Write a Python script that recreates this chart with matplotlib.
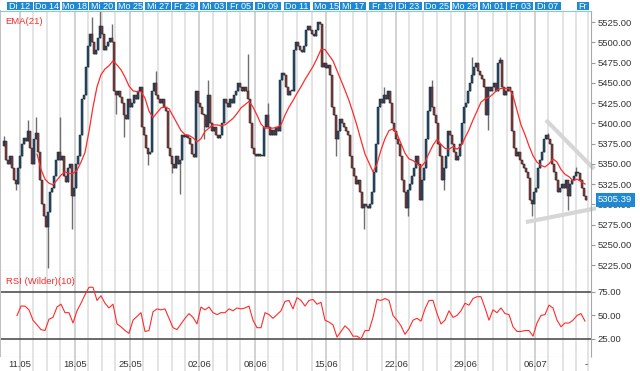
import numpy as np
import matplotlib
matplotlib.use('Agg')
import matplotlib.pyplot as plt
import matplotlib.transforms as mtransforms

plt.rcParams['font.family'] = ['Liberation Sans', 'DejaVu Sans']

# price path, one reading every ~2 px (one candle per step)
path = [
    5372,
    5378, 5355, 5350, 5360, 5345, 5330, 5325, 5345, 5360, 5375,
    5382, 5378, 5390, 5370, 5350, 5380, 5388, 5365, 5330, 5300,
    5285, 5272, 5290, 5315, 5320, 5335, 5355, 5365, 5355, 5360,
    5335, 5328, 5345, 5350, 5310, 5320, 5350, 5360, 5385, 5430,
    5435, 5470, 5495, 5510, 5500, 5485, 5490, 5505, 5520, 5510,
    5490, 5495, 5500, 5505, 5500, 5440, 5435, 5440, 5432, 5425,
    5410, 5405, 5430, 5420, 5425, 5435, 5430, 5440, 5445, 5395,
    5385, 5370, 5362, 5365, 5440, 5450, 5435, 5430, 5425, 5430,
    5420, 5415, 5370, 5360, 5350, 5345, 5360, 5350, 5355, 5385,
    5383, 5385, 5382, 5375, 5362, 5358, 5440, 5425, 5420, 5412,
    5410, 5395, 5435, 5400, 5390, 5395, 5385, 5382, 5385, 5400,
    5430, 5425, 5420, 5430, 5425, 5435, 5440, 5450, 5445, 5440,
    5445, 5440, 5430, 5400, 5370, 5362, 5360, 5362, 5360, 5360,
    5395, 5410, 5395, 5385, 5392, 5385, 5395, 5390, 5453, 5462,
    5460, 5445, 5435, 5440, 5440, 5490, 5500, 5495, 5490, 5488,
    5495, 5515, 5520, 5515, 5510, 5508, 5515, 5525, 5522, 5470,
    5475, 5468, 5472, 5460, 5420, 5410, 5380, 5390, 5405, 5400,
    5395, 5390, 5385, 5360, 5345, 5335, 5325, 5330, 5315, 5295,
    5300, 5298, 5295, 5300, 5315, 5340, 5375, 5420, 5430, 5425,
    5435, 5430, 5440, 5425, 5400, 5390, 5380, 5375, 5360, 5330,
    5315, 5295, 5318, 5325, 5335, 5345, 5360, 5350, 5305, 5330,
    5345, 5380, 5415, 5445, 5420, 5410, 5400, 5375, 5360, 5330,
    5345, 5360, 5390, 5385, 5375, 5365, 5355, 5360, 5375, 5400,
    5420, 5425, 5440, 5450, 5460, 5470, 5475, 5465, 5460, 5455,
    5445, 5410, 5445, 5440, 5445, 5450, 5440, 5475, 5478, 5445,
    5435, 5440, 5445, 5440, 5390, 5370, 5360, 5365, 5355, 5350,
    5345, 5340, 5332, 5305, 5300, 5315, 5320, 5345, 5355, 5365,
    5380, 5385, 5380, 5375, 5350, 5340, 5330, 5315, 5320, 5325,
    5320, 5330, 5310, 5325, 5330, 5335, 5340, 5338, 5330, 5320,
    5310, 5305.39,
]

# long wicks (candle index, price)
spike_hi_idx = [0, 12, 16, 28, 44, 48, 54, 76, 102, 122, 132, 190, 214, 234, 248, 272, 286]
spike_hi_val = [5384, 5404, 5408, 5408, 5531, 5540, 5523, 5464, 5453, 5486, 5425,
                5445, 5453, 5482, 5482, 5388, 5346]
spike_lo_idx = [6, 22, 34, 56, 60, 72, 84, 88, 100, 166, 180, 202, 220, 242, 264, 282]
spike_lo_val = [5318, 5221, 5270, 5412, 5383, 5348, 5338, 5313, 5380, 5359, 5270,
                5285, 5318, 5392, 5285, 5293]

# EMA(21), one value every 2 candles from step 17
ema_first = 17
ema21 = [
    5362, 5343, 5331, 5326, 5324, 5330, 5336, 5340, 5338, 5338,
    5342, 5352, 5364, 5390, 5420, 5445, 5460, 5467, 5471, 5477,
    5472, 5466, 5457, 5446, 5440, 5439, 5439, 5431, 5415, 5407,
    5413, 5419, 5420, 5418, 5409, 5400, 5391, 5386, 5385, 5382,
    5377, 5381, 5390, 5394, 5398, 5398, 5397, 5398, 5402, 5406,
    5412, 5419, 5423, 5427, 5420, 5410, 5399, 5394, 5394, 5394,
    5395, 5398, 5410, 5420, 5428, 5437, 5445, 5454, 5462, 5470,
    5480, 5491, 5491, 5484, 5477, 5465, 5453, 5441, 5428, 5413,
    5397, 5379, 5362, 5351, 5340, 5350, 5367, 5381, 5391, 5393,
    5387, 5375, 5363, 5356, 5354, 5350, 5346, 5352, 5363, 5373,
    5380, 5374, 5369, 5368, 5371, 5368, 5372, 5382, 5392, 5404,
    5415, 5426, 5430, 5432, 5436, 5441, 5443, 5443, 5443, 5434,
    5416, 5398, 5386, 5372, 5360, 5352, 5348, 5346, 5350, 5356,
    5352, 5343, 5337, 5334, 5329, 5331, 5328, 5325,
]

# RSI (Wilder)(10), one value every 2 candles from step 7
rsi_first = 7
rsi10 = [
    50, 60, 60, 56, 45, 40, 35, 34, 46, 48,
    59, 62, 53, 53, 42, 55, 63, 72, 80, 80,
    66, 71, 63, 58, 62, 41, 38, 34, 31, 45,
    49, 53, 33, 34, 54, 57, 56, 57, 47, 37,
    35, 41, 47, 52, 48, 41, 59, 56, 59, 53,
    51, 53, 53, 57, 55, 58, 57, 58, 60, 45,
    37, 37, 53, 51, 47, 51, 55, 65, 66, 57,
    69, 66, 60, 66, 67, 62, 64, 45, 43, 40,
    27, 33, 39, 35, 28, 28, 25, 34, 34, 48,
    67, 66, 68, 66, 50, 45, 39, 30, 36, 45,
    47, 44, 57, 66, 66, 52, 41, 45, 55, 48,
    50, 55, 63, 61, 68, 70, 70, 58, 45, 56,
    53, 58, 52, 51, 38, 33, 33, 34, 34, 28,
    42, 50, 51, 61, 58, 45, 38, 42, 42, 45,
    50, 52, 44,
]

last_price = 5305.39

# session boundaries (steps) and date labels
day_breaks = [8.5, 15, 22, 28.5, 36, 42.5, 49.5, 56, 63.5, 70, 77.5, 84.5, 91,
              98, 105, 112, 118.5, 126, 132.5, 140, 147, 154.5, 161.5, 168.5,
              175, 182, 189.5, 196.5, 203, 210, 217, 224, 231, 237.5, 245, 252,
              258.5, 266, 272.5, 280, 286.5, 292.5]
week_pos = [8.5, 36, 63.5, 98, 126, 161.5, 196.5, 231, 266, 291.5]
week_labels = ['11.05', '18.05', '25.05', '02.06', '08.06', '15.06', '22.06',
               '29.06', '06.07', '-']
head_pos = [8.5, 22, 36, 49.5, 63.5, 77.5, 91, 105, 118.5, 132.5, 147, 161.5,
            175, 189.5, 203, 217, 231, 245, 258.5, 272.5]
head_labels = ['Di 12', 'Do 14', 'Mo 18', 'Mi 20', 'Mo 25', 'Mi 27', 'Fr 29',
               'Mi 03', 'Fr 05', 'Di 09', 'Do 11', 'Mo 15', 'Mi 17', 'Fr 19',
               'Di 23', 'Do 25', 'Mo 29', 'Mi 01', 'Fr 03', 'Di 07']

# trend lines drawn on the chart (step, price)
trend_upper = ([271.5, 295.5], [5404, 5343.5])
trend_lower = ([261.5, 296.5], [5278, 5295])

# ---- candles from the path
p = np.array(path, dtype=float)
opens = p[:-1]
closes = p[1:]
highs = np.maximum(opens, closes)
lows = np.minimum(opens, closes)
highs[spike_hi_idx] = np.maximum(highs[spike_hi_idx], spike_hi_val)
lows[spike_lo_idx] = np.minimum(lows[spike_lo_idx], spike_lo_val)
x = np.arange(len(opens)) + 0.5

BLUE = '#1e88d2'
RED = '#ff2b2b'
GRID = '#e2e2e2'
WEEK = '#cfcfcf'

W, H = 640, 371
fig = plt.figure(figsize=(6.4, 3.71), dpi=100)
aw = 591 / W


def fy(px):
    return 1 - px / H


ax = fig.add_axes([0, fy(271), aw, (271 - 11) / H])
ax_rsi = fig.add_axes([0, fy(357), aw, (357 - 271) / H])
ax_dt = fig.add_axes([0, 0, aw, (371 - 357) / H])
ax_hd = fig.add_axes([0, fy(10), aw, 8 / H])

xlim = (-1.5, 294)
for a in (ax, ax_rsi, ax_dt, ax_hd):
    a.set_xlim(*xlim)
    a.set_xticks([])

for a in (ax, ax_rsi, ax_dt):
    for b in day_breaks:
        a.axvline(b, color=WEEK if b in week_pos else GRID, lw=1.3, zorder=0)

# ---- price panel
ax.set_ylim(5217.6, 5538.6)
ax.plot(*trend_upper, color='#d6d6d6', lw=3, clip_on=False,
        solid_capstyle='butt', zorder=1)
ax.plot(*trend_lower, color='#d6d6d6', lw=3, clip_on=False,
        solid_capstyle='butt', zorder=1)
ax.vlines(x, lows, highs, color='#6e6e6e', lw=1.0, zorder=2)
up = closes >= opens
body = closes - opens
body = np.where(np.abs(body) < 0.8, 0.8, body)
ax.bar(x, body, bottom=opens, width=0.85,
       color=np.where(up, '#1d4f78', '#8a3b3b'),
       edgecolor='#222222', linewidth=0.35, zorder=3)
ax.plot(np.arange(len(ema21)) * 2 + ema_first, ema21,
        color=RED, lw=0.9, zorder=4)

ax.yaxis.tick_right()
ax.set_yticks(np.arange(5225, 5526, 25))
ax.set_yticklabels([f'{v:.2f}' for v in np.arange(5225, 5526, 25)])
ax.tick_params(axis='y', length=3, color='#999999', labelsize=6.8,
               labelcolor='#333333', pad=2)
ax.text(5 / 591, 1 - 11 / 260, 'EMA(21)', transform=ax.transAxes,
        color=RED, fontsize=6.8, va='center', ha='left')
trans = mtransforms.blended_transform_factory(ax.transAxes, ax.transData)
ax.text(598 / 591, last_price, f'{last_price:.2f}', transform=trans,
        color='white', fontsize=6.8, va='center', ha='left', zorder=6,
        bbox=dict(boxstyle='square,pad=0.25', fc=BLUE, ec='none'))

ax.spines['top'].set_color('#8cc4ea')
ax.spines['left'].set_color('#c0c0c0')
ax.spines['left'].set_linewidth(1.5)
ax.spines['right'].set_color('#a8a8a8')
ax.spines['bottom'].set_color('#cccccc')

# ---- RSI panel
ax_rsi.set_ylim(5.85, 97.3)
ax_rsi.axhline(75, color='#505050', lw=1.2, zorder=1)
ax_rsi.axhline(25, color='#505050', lw=1.2, zorder=1)
ax_rsi.plot(np.arange(len(rsi10)) * 2 + rsi_first, rsi10,
            color=RED, lw=0.8, zorder=3)
ax_rsi.yaxis.tick_right()
ax_rsi.set_yticks([25, 50, 75])
ax_rsi.set_yticklabels(['25.00', '50.00', '75.00'])
ax_rsi.tick_params(axis='y', length=3, color='#999999', labelsize=6.8,
                   labelcolor='#333333', pad=2)
ax_rsi.text(6 / 591, 1 - 11 / 86, 'RSI (Wilder)(10)', transform=ax_rsi.transAxes,
            color=RED, fontsize=6.8, va='center', ha='left')
ax_rsi.spines['top'].set_visible(False)
ax_rsi.spines['left'].set_color('#c0c0c0')
ax_rsi.spines['left'].set_linewidth(1.5)
ax_rsi.spines['right'].set_color('#a8a8a8')
ax_rsi.spines['bottom'].set_color('#cccccc')

# ---- date strip
ax_dt.set_ylim(0, 1)
ax_dt.set_yticks([])
for s in ax_dt.spines.values():
    s.set_visible(False)
for xp, lab in zip(week_pos, week_labels):
    ax_dt.text(xp, 0.45, lab, ha='center', va='center', fontsize=6.8,
               color='#333333')

# ---- header with day names
ax_hd.set_ylim(0, 1)
ax_hd.set_yticks([])
for s in ax_hd.spines.values():
    s.set_visible(False)
ax_hd.bar(head_pos, 1, width=13, bottom=0, color=BLUE, lw=0)
for xp, lab in zip(head_pos, head_labels):
    ax_hd.text(xp, 0.45, lab, ha='center', va='center', fontsize=6.5,
               color='white')
ax_hd.bar([286.8], 1, width=6.0, bottom=0, color=BLUE, lw=0, align='edge')
ax_hd.text(287.6, 0.45, 'Fr', ha='left', va='center', fontsize=6.5, color='white')

fig.savefig('out.png', dpi=100)
